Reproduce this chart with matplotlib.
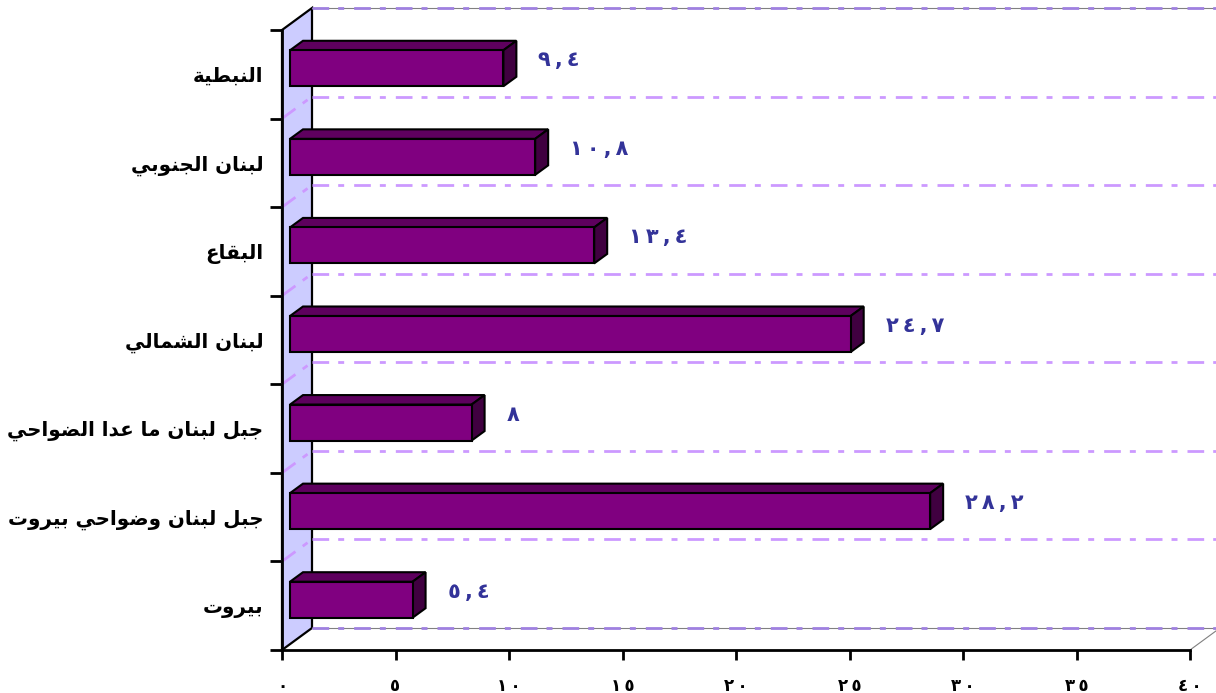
import matplotlib
matplotlib.use("Agg")
import matplotlib.pyplot as plt
from matplotlib.patches import Polygon

# data (bottom to top, as in the chart)
regions = ["بيروت", "جبل لبنان وضواحي بيروت", "جبل لبنان ما عدا الضواحي",
           "لبنان الشمالي", "البقاع", "لبنان الجنوبي", "النبطية"]
values = [5.4, 28.2, 8.0, 24.7, 13.4, 10.8, 9.4]
value_labels = ["٥,٤", "٢٨,٢", "٨", "٢٤,٧", "١٣,٤", "١٠,٨", "٩,٤"]
x_ticks = [0, 5, 10, 15, 20, 25, 30, 35, 40]
x_tick_labels = ["٠", "٥", "١٠", "١٥", "٢٠", "٢٥", "٣٠", "٣٥", "٤٠"]

# arabic presentation forms: isolated, final, initial, medial
FORMS = {
    "ا": (0xFE8D, 0xFE8E, None, None), "ب": (0xFE8F, 0xFE90, 0xFE91, 0xFE92),
    "ة": (0xFE93, 0xFE94, None, None), "ت": (0xFE95, 0xFE96, 0xFE97, 0xFE98),
    "ث": (0xFE99, 0xFE9A, 0xFE9B, 0xFE9C), "ج": (0xFE9D, 0xFE9E, 0xFE9F, 0xFEA0),
    "ح": (0xFEA1, 0xFEA2, 0xFEA3, 0xFEA4), "خ": (0xFEA5, 0xFEA6, 0xFEA7, 0xFEA8),
    "د": (0xFEA9, 0xFEAA, None, None), "ذ": (0xFEAB, 0xFEAC, None, None),
    "ر": (0xFEAD, 0xFEAE, None, None), "ز": (0xFEAF, 0xFEB0, None, None),
    "س": (0xFEB1, 0xFEB2, 0xFEB3, 0xFEB4), "ش": (0xFEB5, 0xFEB6, 0xFEB7, 0xFEB8),
    "ص": (0xFEB9, 0xFEBA, 0xFEBB, 0xFEBC), "ض": (0xFEBD, 0xFEBE, 0xFEBF, 0xFEC0),
    "ط": (0xFEC1, 0xFEC2, 0xFEC3, 0xFEC4), "ظ": (0xFEC5, 0xFEC6, 0xFEC7, 0xFEC8),
    "ع": (0xFEC9, 0xFECA, 0xFECB, 0xFECC), "غ": (0xFECD, 0xFECE, 0xFECF, 0xFED0),
    "ف": (0xFED1, 0xFED2, 0xFED3, 0xFED4), "ق": (0xFED5, 0xFED6, 0xFED7, 0xFED8),
    "ك": (0xFED9, 0xFEDA, 0xFEDB, 0xFEDC), "ل": (0xFEDD, 0xFEDE, 0xFEDF, 0xFEE0),
    "م": (0xFEE1, 0xFEE2, 0xFEE3, 0xFEE4), "ن": (0xFEE5, 0xFEE6, 0xFEE7, 0xFEE8),
    "ه": (0xFEE9, 0xFEEA, 0xFEEB, 0xFEEC), "و": (0xFEED, 0xFEEE, None, None),
    "ى": (0xFEEF, 0xFEF0, None, None), "ي": (0xFEF1, 0xFEF2, 0xFEF3, 0xFEF4),
}


def shape(text):
    # matplotlib has no arabic shaping, so do joining + rtl by hand
    out = []
    for k, ch in enumerate(text):
        if ch not in FORMS:
            out.append(ch)
            continue
        prev = text[k - 1] if k > 0 else ""
        nxt = text[k + 1] if k + 1 < len(text) else ""
        join_prev = prev in FORMS and FORMS[prev][2] is not None
        join_next = FORMS[ch][2] is not None and nxt in FORMS
        iso, fin, ini, med = FORMS[ch]
        if join_prev and join_next:
            out.append(chr(med))
        elif join_prev:
            out.append(chr(fin))
        elif join_next:
            out.append(chr(ini))
        else:
            out.append(chr(iso))
    return "".join(out)[::-1]


def spaced(s):
    return "\u2009".join(s)


plt.rcParams["font.family"] = ["DejaVu Sans"]
plt.rcParams["lines.scale_dashes"] = False

W, H = 1216, 693
fig = plt.figure(figsize=(W / 100, H / 100), dpi=100)
ax = fig.add_axes([282 / W, 43 / H, 908 / W, 620 / H])
ax.set_xlim(0, 40)
ax.set_ylim(-0.5, len(regions) - 0.5)

ppx = 908 / 40
ppy = 620 / len(regions)


def off(px, py):
    return px / ppx, py / ppy


wx, wy = off(30, 22)      # depth of the whole box
bfx, bfy = off(8, 6)      # where the bar front sits
bdx, bdy = off(13, 9.5)   # bar depth
bh = 36 / ppy

ytop = len(regions) - 0.5
bounds = [b - 0.5 for b in range(len(regions) + 1)]

# side wall
ax.add_patch(Polygon([(0, -0.5), (0, ytop), (wx, ytop + wy), (wx, -0.5 + wy)],
                     closed=True, fc="#CCCCFF", ec="black", lw=1.6,
                     zorder=1, clip_on=False))

grid_kw = dict(color="#CC99FF", lw=2.0, dashes=[12, 6.5, 4.3, 7.2],
               clip_on=False, zorder=2, solid_capstyle="butt",
               dash_capstyle="butt")
for b in bounds:
    if b in (-0.5, ytop):
        ax.plot([wx, 40 + wx], [b + wy, b + wy], color="#808080", lw=0.8,
                clip_on=False, zorder=2)
        ax.plot([wx, 40 + wx], [b + wy, b + wy],
                **{**grid_kw, "color": "#9F80E0"})
    else:
        ax.plot([wx, 40 + wx], [b + wy, b + wy], **grid_kw)
        ax.plot([0, wx], [b, b + wy], **grid_kw)

# floor right edge
ax.plot([40, 40 + wx], [-0.5, -0.5 + wy], color="#808080", lw=0.8,
        clip_on=False, zorder=2)

# bars
for i, v in enumerate(values):
    yc = i + bfy
    ax.barh(yc, v, left=bfx, height=bh, color="#800080", edgecolor="black",
            lw=1.5, zorder=4, clip_on=False)
    y0, y1 = yc - bh / 2, yc + bh / 2
    x0, x1 = bfx, bfx + v
    ax.add_patch(Polygon([(x0, y1), (x1, y1), (x1 + bdx, y1 + bdy), (x0 + bdx, y1 + bdy)],
                         closed=True, fc="#5E005E", ec="black", lw=1.5,
                         zorder=3, clip_on=False))
    ax.add_patch(Polygon([(x1, y0), (x1 + bdx, y0 + bdy), (x1 + bdx, y1 + bdy), (x1, y1)],
                         closed=True, fc="#400040", ec="black", lw=1.5,
                         zorder=3, clip_on=False))
    gx, gy = off(22, 8)
    ax.text(x1 + bdx + gx, yc + gy, spaced(value_labels[i]), ha="left",
            va="center", fontsize=15, fontweight="bold",
            color="#333399", zorder=5)

# axes
for s in ("top", "right"):
    ax.spines[s].set_visible(False)
for s in ("left", "bottom"):
    ax.spines[s].set_linewidth(2)
    ax.spines[s].set_zorder(6)

ax.set_xticks(x_ticks, labels=[spaced(t) for t in x_tick_labels])
ax.tick_params(axis="x", direction="out", length=7.5, width=2, pad=12,
               labelsize=12)
for t in ax.get_xticklabels():
    t.set_fontweight("bold")

ax.set_yticks(range(len(regions)), labels=[shape(r) for r in regions])
ax.set_yticks(bounds, minor=True)
ax.tick_params(axis="y", which="major", length=0, pad=13.5, labelsize=14.3)
ax.tick_params(axis="y", which="minor", direction="out", length=9, width=2)
for t in ax.get_yticklabels():
    t.set_fontweight("bold")

fig.savefig("out.png", dpi=100, facecolor="white")
